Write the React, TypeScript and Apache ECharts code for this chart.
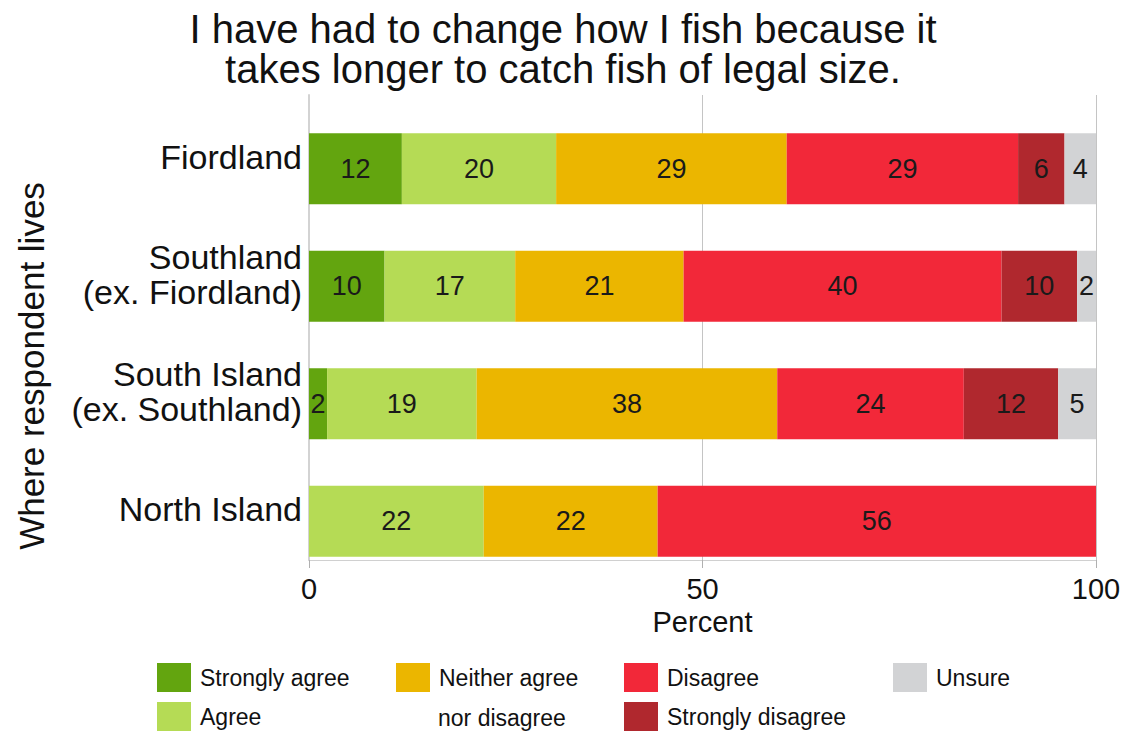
import React, { useEffect, useRef } from "react";
import * as echarts from "echarts";

const categories = ["Fiordland", "Southland\n(ex. Fiordland)", "South Island\n(ex. Southland)", "North Island"];
const seriesNames = ["Strongly agree", "Agree", "Neither agree nor disagree", "Disagree", "Strongly disagree", "Unsure"];
const stronglyAgree = [11.8, 9.6, 2.3, 0];
const agree = [19.6, 16.6, 19.0, 22.2];
const neither = [29.3, 21.4, 38.2, 22.1];
const disagree = [29.4, 40.4, 23.7, 55.7];
const stronglyDisagree = [5.9, 9.6, 12.0, 0];
const unsure = [4.0, 2.4, 4.8, 0];
const xTicks = [0, 50, 100];
const colors = ["#63a50f", "#b5db55", "#ebb600", "#f22839", "#b0282e", "#d2d3d5"];

const FONT = "'Liberation Sans', Arial, Helvetica, sans-serif";

export default function App() {
  const ref = useRef<HTMLDivElement>(null);
  useEffect(() => {
    if (!ref.current) return;
    const chart = echarts.init(ref.current, null, { renderer: "svg" });
    const values = [stronglyAgree, agree, neither, disagree, stronglyDisagree, unsure];
    const legendPos = [
      [157, 663],
      [157, 702],
      [396, 663],
      [624, 663],
      [624, 702],
      [893, 663],
    ];
    const legends = seriesNames.map((n, i) => ({
      data: [n],
      left: legendPos[i][0],
      top: legendPos[i][1],
      padding: 0,
      itemWidth: 34,
      itemHeight: 29,
      icon: "rect",
      selectedMode: false,
      formatter: (name: string) => (name === "Neither agree nor disagree" ? "Neither agree" : name),
      textStyle: { fontSize: 23, color: "#111", fontFamily: FONT, padding: [0, 0, 0, 4] },
    }));
    chart.setOption({
      animation: false,
      backgroundColor: "#fff",
      title: {
        text: "I have had to change how I fish because it\ntakes longer to catch fish of legal size.",
        left: "center",
        top: 9,
        padding: 0,
        textStyle: { fontSize: 40, lineHeight: 40, fontWeight: "normal", color: "#111", fontFamily: FONT },
      },
      legend: legends,
      graphic: [
        {
          type: "text",
          x: 438,
          y: 718,
          style: { text: "nor disagree", fontSize: 23, fill: "#111", fontFamily: FONT, align: "left", verticalAlign: "middle" },
        },
        {
          type: "text",
          x: 31,
          y: 366,
          rotation: Math.PI / 2,
          style: { text: "Where respondent lives", fontSize: 35, fill: "#111", fontFamily: FONT, align: "center", verticalAlign: "middle" },
        },
      ],
      grid: [
        { left: 309, right: 30, top: 110, height: 470 },
        { left: 309, right: 30, top: 95, bottom: 173 },
      ],
      xAxis: [
        { type: "value", gridIndex: 0, min: 0, max: 100, show: false },
        {
          type: "value",
          gridIndex: 1,
          min: 0,
          max: 100,
          interval: 50,
          name: "Percent",
          nameLocation: "middle",
          nameGap: 43,
          nameTextStyle: { fontSize: 29, color: "#111", fontFamily: FONT },
          axisLine: { show: true, lineStyle: { color: "#d0d0d0", width: 1 } },
          axisTick: { show: true, length: 8, lineStyle: { color: "#b0b0b0" } },
          axisLabel: {
            fontSize: 29,
            color: "#111",
            fontFamily: FONT,
            margin: 14,
            customValues: xTicks,
          },
          splitLine: { show: true, lineStyle: { color: "#c4c4c4", width: 1 } },
        },
      ],
      yAxis: [
        {
          type: "category",
          gridIndex: 0,
          data: categories,
          inverse: true,
          axisLine: { show: false },
          axisTick: { show: false },
          splitLine: { show: false },
          axisLabel: {
            margin: 7,
            align: "right",
            formatter: (v: string) =>
              v
                .split("\n")
                .map((l) => `{t|${l}}`)
                .join("\n") + "\n{s| }",
            rich: {
              t: { fontSize: 34, lineHeight: 35, color: "#111", fontFamily: FONT, align: "right" },
              s: { fontSize: 2, lineHeight: 24, align: "right" },
            },
          },
        },
        {
          type: "value",
          gridIndex: 1,
          axisLine: { show: true, lineStyle: { color: "#d3d3d3", width: 2 } },
          axisTick: { show: false },
          axisLabel: { show: false },
          splitLine: { show: false },
        },
      ],
      series: seriesNames.map((n, i) => ({
        name: n,
        type: "bar",
        stack: "total",
        xAxisIndex: 0,
        yAxisIndex: 0,
        barWidth: 71,
        itemStyle: { color: colors[i] },
        label: {
          show: true,
          position: "inside",
          fontSize: 27,
          color: "#1a1a1a",
          fontFamily: FONT,
          formatter: (p: any) => (p.value >= 0.5 ? String(Math.round(p.value)) : ""),
        },
        data: values[i],
      })),
    });
    return () => chart.dispose();
  }, []);
  return <div ref={ref} style={{ position: "absolute", left: 0, top: 0, width: 1126, height: 733 }} />;
}
